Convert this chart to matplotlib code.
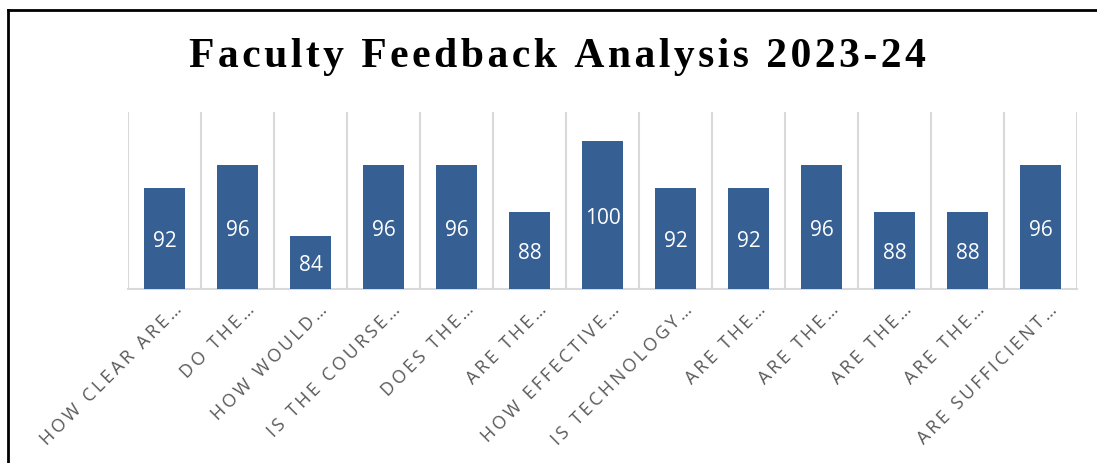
import matplotlib.pyplot as plt
import matplotlib.transforms as mtransforms
from matplotlib.lines import Line2D
import numpy as np

# question labels (truncated like in the source sheet) and scores
questions = ["HOW CLEAR ARE…", "DO THE…", "HOW WOULD…", "IS THE COURSE…",
             "DOES THE…", "ARE THE…", "HOW EFFECTIVE…", "IS TECHNOLOGY…",
             "ARE THE…", "ARE THE…", "ARE THE…", "ARE THE…", "ARE SUFFICIENT…"]
scores = [92, 96, 84, 96, 96, 88, 100, 92, 92, 96, 88, 88, 96]
title = "Faculty Feedback Analysis 2023-24"

def spaced(s, sep="\u2009"):
    # fake letter spacing
    return sep.join(s)

fig = plt.figure(figsize=(10.97, 4.64), dpi=100)
ax = fig.add_axes([0.1167, 0.376, 0.8651, 0.3805])

x = np.arange(len(scores))
bars = ax.bar(x, scores, width=0.56, color="#365F93", zorder=3)
ax.set_ylim(75, 105)
ax.set_xlim(-0.5, len(scores) - 0.5)

# vertical separators between categories
for b in np.arange(-0.5, len(scores), 1):
    ax.axvline(b, color="#D9D9D9", lw=1.5, zorder=1)

for xi, v in zip(x, scores):
    ax.text(xi, (75 + v) / 2 - 0.4, str(v), ha="center", va="center",
            color="white", fontsize=15, family=["Open Sans", "DejaVu Sans"], zorder=4)

for s in ["top", "left", "right"]:
    ax.spines[s].set_visible(False)
ax.spines["bottom"].set_color("#D9D9D9")
ax.spines["bottom"].set_linewidth(1.5)
ax.set_yticks([])
ax.set_xticks(x)
ax.set_xticklabels([spaced(q) for q in questions], rotation=45, ha="right",
                   rotation_mode="anchor", fontsize=13, color="#595959")
ax.tick_params(axis="x", length=0, pad=8)
shift = mtransforms.ScaledTranslation(8 / 100, 0, fig.dpi_scale_trans)
for lab in ax.get_xticklabels():
    lab.set_transform(lab.get_transform() + shift)
    lab.set_fontfamily(["Open Sans", "DejaVu Sans"])

fig.text(0.508, 0.877, spaced(title, "\u200a"), ha="center", va="center",
         fontsize=30, fontweight="bold", family=["Liberation Serif", "DejaVu Serif"])

# outer frame (only top and left edges visible)
fig.add_artist(Line2D([0.007, 1.0], [0.977, 0.977], color="black", lw=2, transform=fig.transFigure))
fig.add_artist(Line2D([0.0073, 0.0073], [0.0, 0.977], color="black", lw=2, transform=fig.transFigure))

fig.savefig("out.png", dpi=100)
